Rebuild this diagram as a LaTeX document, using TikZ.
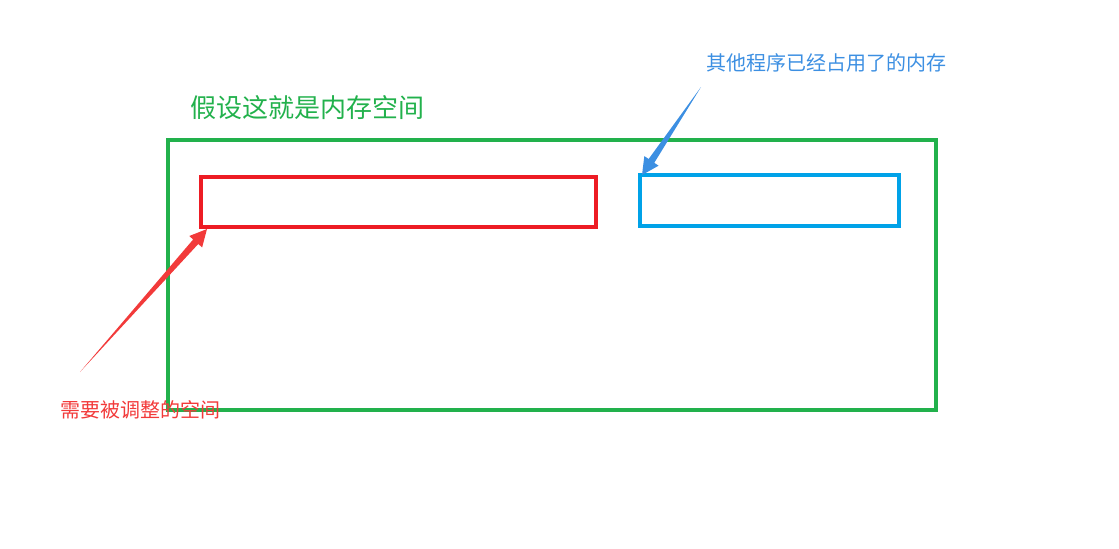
\documentclass[tikz,border=0pt]{standalone}
\usepackage{fontspec}
\setmainfont{Noto Sans CJK SC}
\usepackage{tikz}
\usetikzlibrary{calc,positioning}
\definecolor{memgreen}{HTML}{22B14C}
\definecolor{memred}{HTML}{ED1C24}
\definecolor{memblue}{HTML}{00A2E8}
\definecolor{tagred}{HTML}{F23A3A}
\definecolor{tagblue}{HTML}{3C8FE2}
\tikzset{
	membox/.style={draw,line width=2pt,inner sep=0pt,outer sep=0pt},
	tag/.style={anchor=west,inner sep=0pt,font=\fontsize{10pt}{12pt}\selectfont}
}

\begin{document}
\begin{tikzpicture}[x=0.5pt,y=-0.5pt]
		\useasboundingbox (0,0) rectangle (1119,548);
		\begin{scope}
			\node(mem) [membox,memgreen,minimum width=384pt,minimum height=135pt] at (552,275) {};
			\node(title) [tag,memgreen,font=\fontsize{13pt}{15pt}\selectfont] at (190,108) {假设这就是内存空间};
			\node(resize) [membox,memred,minimum width=197.5pt,minimum height=25pt] at (398.5,202) {};
			\node(used) [membox,memblue,minimum width=129.5pt,minimum height=25.5pt] at (769.5,200.5) {};
			\node(resizetag) [tag,tagred] at (60,410) {需要被调整的空间};
			\node(usedtag) [tag,tagblue] at (706,63) {其他程序已经占用了的内存};
			% tapered arrows
			\coordinate (rtail) at (80,372);
			\coordinate (rhead) at ($(resize.south west)+(6,2)$);
			\coordinate (rbase) at ($(rhead)!8.5pt!(rtail)$);
			\fill[tagred] (rtail) -- ($(rbase)!1.7pt!90:(rtail)$) -- ($(rbase)!4.3pt!90:(rtail)$) -- (rhead)
				-- ($(rbase)!4.3pt!-90:(rtail)$) -- ($(rbase)!1.7pt!-90:(rtail)$) -- cycle;
			\coordinate (btail) at (701,87);
			\coordinate (bhead) at ($(used.north west)+(2,0)$);
			\coordinate (bbase) at ($(bhead)!8.5pt!(btail)$);
			\fill[tagblue] (btail) -- ($(bbase)!1.7pt!90:(btail)$) -- ($(bbase)!4.3pt!90:(btail)$) -- (bhead)
				-- ($(bbase)!4.3pt!-90:(btail)$) -- ($(bbase)!1.7pt!-90:(btail)$) -- cycle;
		\end{scope}
	\end{tikzpicture}
\end{document}
